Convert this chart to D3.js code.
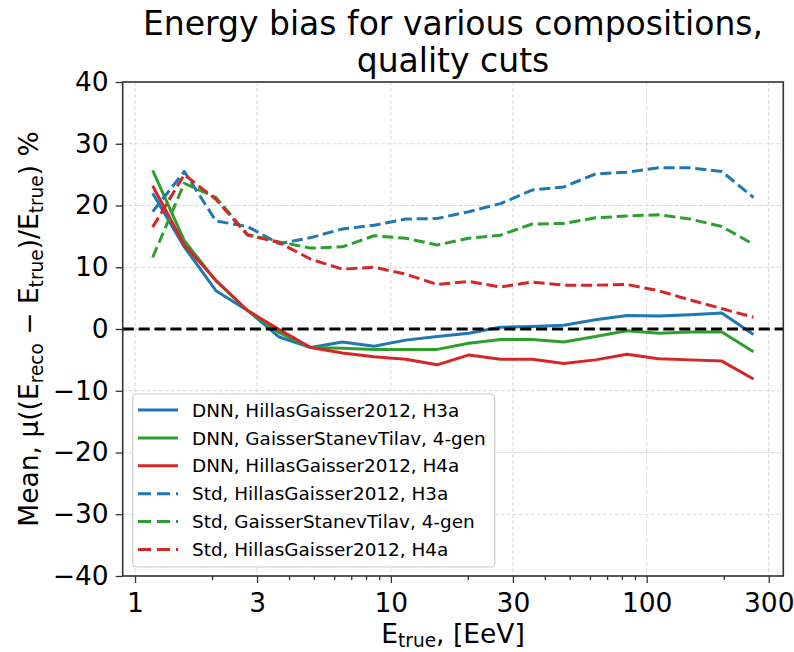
<!DOCTYPE html>
<html><head><meta charset="utf-8">
<script src="https://cdn.jsdelivr.net/npm/d3@7"></script>
<style>body{margin:0;background:#fff} text{font-family:"DejaVu Sans",sans-serif;fill:#000}</style>
</head><body><svg id="c" width="794" height="652"></svg>
<script>
// ---- data ----
const energies = [1.172,1.558,2.071,2.753,3.660,4.864,6.465,8.596,11.43,15.18,20.18,26.83,35.67,47.41,63.02,83.75,111.3,148.0,196.7,261.5];
const dnnH3a  = [22.0,13.3,6.2,3.0,-1.3,-3.0,-2.1,-2.8,-1.8,-1.2,-0.7,0.3,0.4,0.6,1.5,2.2,2.1,2.3,2.6,-0.9];
const dnnGST  = [25.7,14.3,7.8,3.0,-0.6,-3.0,-3.1,-3.3,-3.3,-3.3,-2.3,-1.7,-1.7,-2.1,-1.2,-0.3,-0.7,-0.5,-0.5,-3.7];
const dnnH4a  = [23.2,13.6,7.9,3.0,-0.1,-3.0,-3.9,-4.5,-4.9,-5.8,-4.2,-4.9,-4.9,-5.6,-5.0,-4.1,-4.8,-5.0,-5.2,-8.1];
const stdH3a  = [19.0,25.5,17.5,16.6,13.8,14.8,16.2,16.8,17.8,17.9,19.0,20.3,22.5,23.0,25.1,25.4,26.1,26.1,25.5,21.3];
const stdGST  = [11.6,23.6,21.3,15.3,14.1,13.1,13.3,15.1,14.7,13.6,14.7,15.2,17.0,17.1,18.0,18.3,18.5,17.8,16.6,13.7];
const stdH4a  = [16.5,25.0,21.0,15.2,14.0,11.3,9.7,10.0,8.9,7.2,7.7,6.8,7.6,7.1,7.1,7.2,6.2,4.7,3.3,1.9];
const seriesLabels = ["DNN, HillasGaisser2012, H3a","DNN, GaisserStanevTilav, 4-gen","DNN, HillasGaisser2012, H4a",
                      "Std, HillasGaisser2012, H3a","Std, GaisserStanevTilav, 4-gen","Std, HillasGaisser2012, H4a"];
const seriesValues = [dnnH3a, dnnGST, dnnH4a, stdH3a, stdGST, stdH4a];
const seriesColors = ["#1f77b4","#2ca02c","#d62728","#1f77b4","#2ca02c","#d62728"];
const seriesDashed = [false,false,false,true,true,true];
const xTickLabels = [1,3,10,30,100,300];
const xMinorTicks = [2,4,5,6,7,8,9,20,40,50,60,70,80,90,200];
const yTickLabels = [-40,-30,-20,-10,0,10,20,30,40];

// ---- layout ----
const L=122.7, R=783.3, T=82, B=576;
const svg = d3.select("#c");
const x = d3.scaleLog().domain([0.895,342]).range([L,R]);
const y = d3.scaleLinear().domain([-40,40]).range([B,T]);

svg.append("defs").append("clipPath").attr("id","clip")
  .append("rect").attr("x",L).attr("y",T).attr("width",R-L).attr("height",B-T);

// grid
const grid = svg.append("g");
grid.selectAll("line.vx").data(xTickLabels).join("line")
  .attr("x1",d=>x(d)).attr("x2",d=>x(d)).attr("y1",T).attr("y2",B)
  .attr("stroke","#dadada").attr("stroke-width",1).attr("stroke-dasharray","4,2");
grid.selectAll("line.hy").data(yTickLabels).join("line")
  .attr("y1",d=>y(d)).attr("y2",d=>y(d)).attr("x1",L).attr("x2",R)
  .attr("stroke","#dadada").attr("stroke-width",1).attr("stroke-dasharray","4,2");

// series
const line = d3.line().x((d,i)=>x(energies[i])).y(d=>y(d));
const plot = svg.append("g").attr("clip-path","url(#clip)");
seriesValues.forEach((vals,k)=>{
  plot.append("path").datum(vals).attr("d",line).attr("fill","none")
    .attr("stroke",seriesColors[k]).attr("stroke-width",3)
    .attr("stroke-linejoin","round")
    .attr("stroke-dasharray",seriesDashed[k]?"11.1,4.8":null);
});
// zero line
plot.append("line").attr("x1",L).attr("x2",R).attr("y1",y(0)).attr("y2",y(0))
  .attr("stroke","#000").attr("stroke-width",3).attr("stroke-dasharray","11.1,4.8");

// frame
svg.append("rect").attr("x",L).attr("y",T).attr("width",R-L).attr("height",B-T)
  .attr("fill","none").attr("stroke","#333").attr("stroke-width",1.6);

// axes
const fs = 26.5;
const xa = svg.append("g").attr("transform",`translate(0,${B})`)
  .call(d3.axisBottom(x).tickValues(xTickLabels).tickFormat(d3.format("d")).tickSize(7).tickPadding(10).tickSizeOuter(0));
const xm = svg.append("g").attr("transform",`translate(0,${B})`)
  .call(d3.axisBottom(x).tickValues(xMinorTicks).tickFormat("").tickSize(4).tickSizeOuter(0));
const ya = svg.append("g").attr("transform",`translate(${L},0)`)
  .call(d3.axisLeft(y).tickValues(yTickLabels).tickFormat(d=>d<0?"\u2212"+(-d):d).tickSize(7).tickPadding(7).tickSizeOuter(0));
[xa,xm,ya].forEach(g=>{
  g.select(".domain").remove();
  g.selectAll(".tick line").attr("stroke","#333").attr("stroke-width",1.3);
  g.selectAll(".tick text").attr("font-size",fs).attr("font-family","DejaVu Sans").attr("fill","#000");
});

// title
const title = svg.append("text").attr("x",(L+R)/2).attr("text-anchor","middle").attr("font-size",33);
title.append("tspan").attr("x",(L+R)/2).attr("y",35).text("Energy bias for various compositions,");
title.append("tspan").attr("x",(L+R)/2).attr("y",71.5).text("quality cuts");

// x label
const xl = svg.append("text").attr("x",(L+R)/2).attr("y",643).attr("text-anchor","middle").attr("font-size",fs);
xl.append("tspan").text("E");
xl.append("tspan").attr("font-size",fs*0.7).attr("dy",4).text("true");
xl.append("tspan").attr("dy",-4).text(", [EeV]");

// y label
const yl = svg.append("text").attr("transform",`translate(38,${(T+B)/2}) rotate(-90)`)
  .attr("text-anchor","middle").attr("font-size",fs);
yl.append("tspan").text("Mean, \u03bc((E");
yl.append("tspan").attr("font-size",fs*0.7).attr("dy",5).text("reco");
yl.append("tspan").attr("dy",-5).text(" \u2212 E");
yl.append("tspan").attr("font-size",fs*0.7).attr("dy",5).text("true");
yl.append("tspan").attr("dy",-5).text(")/E");
yl.append("tspan").attr("font-size",fs*0.7).attr("dy",5).text("true");
yl.append("tspan").attr("dy",-5).text(") %");

// legend
const lfs = 18.4;
const lg = svg.append("g");
const box = lg.append("rect").attr("x",132.7).attr("y",394).attr("rx",4)
  .attr("fill","#fff").attr("fill-opacity",0.85).attr("stroke","#cccccc").attr("stroke-width",1.2);
let maxW = 0;
seriesLabels.forEach((lab,k)=>{
  const cy = 410 + k*27.9;
  lg.append("line").attr("x1",138).attr("x2",178).attr("y1",cy).attr("y2",cy)
    .attr("stroke",seriesColors[k]).attr("stroke-width",3)
    .attr("stroke-dasharray",seriesDashed[k]?"13,6":null);
  const t = lg.append("text").attr("x",192).attr("y",cy).attr("dy","0.36em").attr("font-size",lfs).text(lab);
  maxW = Math.max(maxW, t.node().getComputedTextLength());
});
box.attr("width",192+maxW+9-132.7).attr("height",567-394);
</script></body></html>
